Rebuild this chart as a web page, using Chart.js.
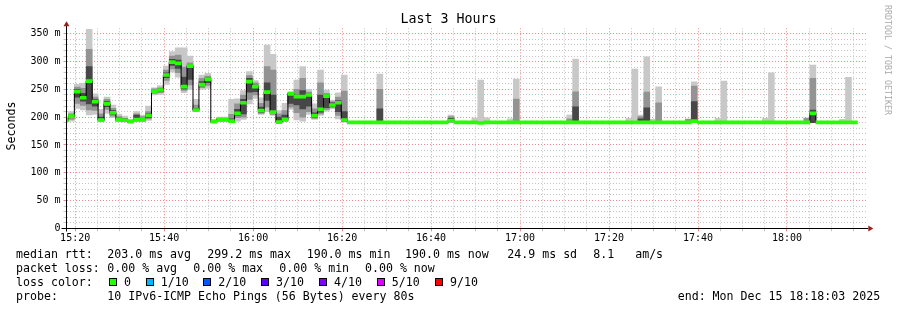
<!DOCTYPE html>
<html>
<head>
<meta charset="utf-8">
<script src="https://cdn.jsdelivr.net/npm/chart.js@4/dist/chart.umd.min.js"></script>
<style>
  html, body { margin:0; padding:0; background:#fff; }
  #wrap { position:relative; width:897px; height:310px; overflow:hidden; background:#fff; }
  #c { position:absolute; left:0; top:0; }
  .t { position:absolute; white-space:pre; font-family:'DejaVu Sans Mono', monospace; color:#000; }
  .lg { font-size:11.6px; line-height:14px; height:14px; }
  .box { position:absolute; width:6px; height:6px; border:1px solid #000; }
</style>
</head>
<body>
<div id="wrap">
  <canvas id="c" width="897" height="310"></canvas>
</div>
<script>
// ---------------- data ----------------
const axisStartTime = '15:18:03';   // left edge of graph (end - 3h)
const firstSample   = '15:17:49';   // time of first (partly visible) 80 s sample
const stepSeconds   = 80;
const xMajorLabels  = ['15:20','15:40','16:00','16:20','16:40','17:00','17:20','17:40','18:00'];
const yTickValues   = [0, 50, 100, 150, 200, 250, 300, 350];
const yTickLabels   = ['0','50 m','100 m','150 m','200 m','250 m','300 m','350 m'];

// median rtt (ms), one per 80 s step
const median = [
  195,202,246,235,265,228,195,224,208,196,
  194.5,192,195.5,196,203,247,249,276,299,297,
  255,292,213,258.5,268,192,196,196,193,207,
  226,264,255,212,245,209,191,196,242,237,
  237,240,203,214,238,222,226,195,190.6,190.6,
  190.6,190.6,190.6,190.6,190.6,190.6,190.6,190.6,190.6,190.6,
  190.6,190.6,190.6,190.6,190.6,194,190.6,190.6,190.6,190.6,
  189.5,190.6,190.6,190.6,190.6,190.6,190.6,190.6,190.6,190.6,
  190.6,190.6,190.6,190.6,190.6,190.6,190.6,190.6,190.6,190.6,
  190.6,190.6,190.6,190.6,190.6,190.6,190.6,190.6,190.6,190.6,
  190.6,190.6,190.6,190.6,190.6,190.6,193,190.6,190.6,190.6,
  190.6,190.6,190.6,190.6,190.6,190.6,190.6,190.6,190.6,190.6,
  190.6,190.6,190.6,190.6,190.6,190.6,207,190.6,190.6,190.6,
  190.6,190.6,190.6,190.6
];

// smoke: outer band (lowest..highest ping)
const smokeOuter = [
  [192,200],[193,210],[216,259],[213,261],[204,358],[205,242],[192,214],[207,236],[199,222],[192,205],
  [191,202],[190,196],[192,210],[192,204],[194,220],[240,253],[241,257],[259,292],[281,318],[272,325],
  [244,325],[250,310],[210,232],[250,276],[252,279],[190,196],[192,200],[192,200],[191,232],[193,233],
  [196,248],[224,282],[234,266],[205,235],[210,330],[203,313],[190,212],[192,225],[214,246],[195,267],
  [193,291],[205,250],[196,224],[203,285],[211,249],[215,231],[197,244],[191,276],null,null,
  null,null,null,[190,277.5],null,null,null,null,null,null,
  null,null,null,null,null,[190,204],null,null,null,[190,199],
  [190,266.7],[190,199],null,null,null,[190,197],[190,268.5],null,null,null,
  null,null,null,null,null,[190,204],[190,304.5],null,null,null,
  null,null,null,null,null,[190,198],[190,286.5],[190,204],[190,308.6],[190,196],
  [190,254.7],null,null,null,null,[190,197],[190,263.7],null,null,null,
  [190,198],[190,265],null,null,null,null,null,null,[190,198],[190,280],
  null,null,null,null,null,[190,199],[190,294],null,null,null,
  null,[190,196],[190,271.6],null
];

// smoke: middle band
const smokeMid = [
  [193,198],[196,206],[225,254],[221,252],[213,322],[212,236],[193,206],[214,232],[202,216],[193,201],
  [192,198],[190.5,194],[193,206],[193,201],[197,210],[243,251],[244,253],[266,285],[287,310],[280,312],
  [248,290],[258,298],[211,222],[253,270],[257,274],[190.5,194],[193,198],[193,198],[192,205],[199,224],
  [200,240],[232,275],[240,262],[207,225],[218,291],[205,285],[190.5,206],[193,212],[218,244],[208,250],
  [200,270],[210,245],[198,215],[206,262],[214,243],[217,228],[203,236],[192,247],null,null,
  null,null,null,[190,250],null,null,null,null,null,null,
  null,null,null,null,null,[191,201],null,null,null,null,
  null,null,null,null,null,null,[190,232.5],null,null,null,
  null,null,null,null,null,[190,197],[190,245.7],null,null,null,
  null,null,null,null,null,null,null,[190,201],[190,245],null,
  [190,226],null,null,null,null,[190,196],[190,256],null,null,null,
  null,null,null,null,null,null,null,null,null,null,
  null,null,null,null,null,[190,198],[190,270],null,null,null,
  null,null,null,null
];

// smoke: inner (darkest) band
const smokeCore = [
  [194,196],[199,204],[236,250],[229,243],[224,291],[220,232],[194,200],[219,228],[205,212],[194,199],
  [193,197],[191,193],[194,204],[194,198],[199,206],[245,249],[246,251],[271,280],[293,304],[288,303],
  [251,272],[268,294],[212,216],[256,264],[262,271],[191,193],[194,197],[194,197],[192,197],[203,214],
  [206,232],[245,270],[246,258],[209,218],[230,262],[207,240],[191,200],[194,204],[225,243],[222,240],
  [215,248],[220,242],[200,208],[209,240],[217,240],[219,226],[210,230],[193,210],null,null,
  null,null,null,[190,215],null,null,null,null,null,null,
  null,null,null,null,null,[192,198],null,null,null,null,
  null,null,null,null,null,null,null,null,null,null,
  null,null,null,null,null,null,[190,218.7],null,null,null,
  null,null,null,null,null,null,null,[190,197],[190,217],null,
  null,null,null,null,null,null,[190,228],null,null,null,
  null,null,null,null,null,null,null,null,null,null,
  null,null,null,null,null,null,[190,213],null,null,null,
  null,null,null,null
];

const lossColors = ['#26ff00','#00b8ff','#0059ff','#5e00ff','#7e00ff','#dd00ff','#ff0000'];
const lossLabels = ['0','1/10','2/10','3/10','4/10','5/10','9/10'];

// ---------------- helpers ----------------
const toMin = s => { const p = s.split(':').map(Number); return p[0]*60 + p[1] + p[2]/60; };
const xMin = toMin(axisStartTime);
const xMax = xMin + 180;
const t0 = toMin(firstSample);
const xs = median.map((_, i) => t0 + i * stepSeconds / 60);
const majorMins = xMajorLabels.map(l => toMin(l + ':00'));
const firstMinor = majorMins[0];
const MONO = "'DejaVu Sans Mono', monospace";
const GRID_MINOR = '#c4c4c4';
const GRID_MAJOR = '#f08a8a';
const AXIS_RED = '#9a1f1f';
const greenHalf = 2.7;

const barBase = { type:'bar', grouped:false, barPercentage:1, categoryPercentage:1, borderWidth:0 };
const bandData = arr => xs.map((x, i) => ({ x, y: arr[i] }));

const axesPlugin = {
  id: 'axes',
  afterDatasetsDraw(chart) {
    const { ctx, chartArea: { left, right, top, bottom } } = chart;
    const X = Math.floor(left) + 0.5;
    const Y = Math.floor(bottom) + 0.5;
    ctx.save();
    ctx.strokeStyle = '#000';
    ctx.lineWidth = 1;
    ctx.beginPath();
    ctx.moveTo(X - 5, Y); ctx.lineTo(right + 1, Y);
    ctx.moveTo(X, Y + 3); ctx.lineTo(X, top - 3);
    ctx.stroke();
    ctx.fillStyle = AXIS_RED;
    ctx.beginPath();
    ctx.moveTo(X - 3, top - 2); ctx.lineTo(X + 3, top - 2); ctx.lineTo(X, top - 7); ctx.closePath();
    ctx.fill();
    ctx.beginPath();
    ctx.moveTo(right + 1, Y - 3); ctx.lineTo(right + 1, Y + 3); ctx.lineTo(right + 6, Y); ctx.closePath();
    ctx.fill();
    ctx.restore();
  }
};

new Chart(document.getElementById('c'), {
  type: 'bar',
  data: {
    datasets: [
      Object.assign({}, barBase, { data: bandData(smokeOuter), backgroundColor:'#c8c8c8', order:5 }),
      Object.assign({}, barBase, { data: bandData(smokeMid),   backgroundColor:'#939393', order:4 }),
      Object.assign({}, barBase, { data: bandData(smokeCore),  backgroundColor:'#474747', order:3 }),
      { type:'line', data: xs.map((x, i) => ({ x, y: median[i] })), stepped:'middle',
        borderColor:'#000', borderWidth:1, pointRadius:0, fill:false, order:2 },
      Object.assign({}, barBase, {
        data: xs.map((x, i) => ({ x, y: [median[i] - greenHalf, median[i] + greenHalf] })),
        backgroundColor: lossColors[0], order:1 })
    ]
  },
  options: {
    responsive:false, animation:false, events:[], devicePixelRatio:1,
    layout: { padding: { left:20.5, right:29.7, top:28.3, bottom:61.7 } },
    plugins: { legend:{ display:false }, tooltip:{ enabled:false }, title:{ display:false } },
    scales: {
      x: {
        type:'linear', min:xMin, max:xMax, offset:false,
        afterFit(s) { s.height = 20; },
        afterBuildTicks(s) {
          const t = [];
          for (let v = firstMinor; v < xMax; v += 5) t.push({ value: v });
          s.ticks = t;
        },
        ticks: {
          autoSkip:false, maxRotation:0, padding:1, color:'#000',
          font:{ family:MONO, size:10 },
          callback(v) { const k = majorMins.findIndex(m => Math.abs(m - v) < 0.01); return k >= 0 ? xMajorLabels[k] : ''; }
        },
        grid: {
          offset:false, tickLength:3, lineWidth:1, tickBorderDash:[],
          color(ctx) { const v = ctx.tick ? ctx.tick.value : 0; return majorMins.some(m => Math.abs(m - v) < 0.01) ? GRID_MAJOR : GRID_MINOR; }
        },
        border:{ display:false, dash:[1,2] }
      },
      y: {
        type:'linear', min:0, max:360,
        afterFit(s) { s.width = 46; },
        afterBuildTicks(s) {
          const t = [];
          for (let v = 0; v <= 350; v += 10) t.push({ value: v });
          s.ticks = t;
        },
        ticks: {
          autoSkip:false, padding:3, color:'#000',
          font:{ family:MONO, size:10 },
          callback(v) { const k = yTickValues.indexOf(v); return k >= 0 ? yTickLabels[k] : ''; }
        },
        grid: {
          tickLength:3, lineWidth:1, tickBorderDash:[],
          color(ctx) { const v = ctx.tick ? ctx.tick.value : 0; return v % 50 === 0 ? GRID_MAJOR : GRID_MINOR; }
        },
        border:{ display:false, dash:[1,2] }
      }
    }
  },
  plugins:[axesPlugin]
});

// ---------------- text ----------------
const wrap = document.getElementById('wrap');
function addText(txt, x, yc, cls, extra) {
  const d = document.createElement('div');
  d.className = 't ' + (cls || '');
  d.textContent = txt;
  d.style.left = x + 'px';
  d.style.top = (yc - 7) + 'px';
  if (extra) Object.assign(d.style, extra);
  wrap.appendChild(d);
  return d;
}
// title
const title = document.createElement('div');
title.className = 't';
title.textContent = 'Last 3 Hours';
Object.assign(title.style, { left:'0px', width:'897px', textAlign:'center', top:'11px', fontSize:'13.3px', lineHeight:'16px' });
wrap.appendChild(title);
// y axis label
const yl = document.createElement('div');
yl.className = 't';
yl.textContent = 'Seconds';
Object.assign(yl.style, { left:'-39px', top:'118px', width:'100px', height:'16px', lineHeight:'16px', textAlign:'center',
  fontSize:'11.6px', transform:'rotate(-90deg)' });
wrap.appendChild(yl);
// watermark
const wm = document.createElement('div');
wm.className = 't';
wm.textContent = 'RRDTOOL / TOBI OETIKER';
Object.assign(wm.style, { left:'828px', top:'54px', width:'120px', height:'12px', lineHeight:'12px', textAlign:'center',
  fontSize:'8.3px', color:'#aaaaaa', transform:'rotate(90deg)' });
wrap.appendChild(wm);

// legend lines
const legendRows = [
  { y:254.3, items:[[16,'median rtt:'],[107.3,'203.0 ms avg'],[207.3,'299.2 ms max'],[306.7,'190.0 ms min'],[405,'190.0 ms now'],[507.3,'24.9 ms sd'],[593.3,'8.1   am/s']] },
  { y:268.3, items:[[16,'packet loss:'],[107.3,'0.00 % avg'],[193.3,'0.00 % max'],[279.3,'0.00 % min'],[365,'0.00 % now']] },
  { y:282.3, items:[[16,'loss color:']] },
  { y:296.3, items:[[16,'probe:'],[107.3,'10 IPv6-ICMP Echo Pings (56 Bytes) every 80s'],[677.7,'end: Mon Dec 15 18:18:03 2025']] }
];
legendRows.forEach(r => r.items.forEach(([x, s]) => addText(s, x, r.y, 'lg')));
const boxX = [109, 145.7, 203.3, 261, 319, 376.7, 435];
boxX.forEach((bx, i) => {
  const b = document.createElement('div');
  b.className = 'box';
  Object.assign(b.style, { left: bx + 'px', top:'278.3px', background: lossColors[i] });
  wrap.appendChild(b);
  addText(lossLabels[i], bx + 15, 282.3, 'lg');
});
</script>
</body>
</html>
